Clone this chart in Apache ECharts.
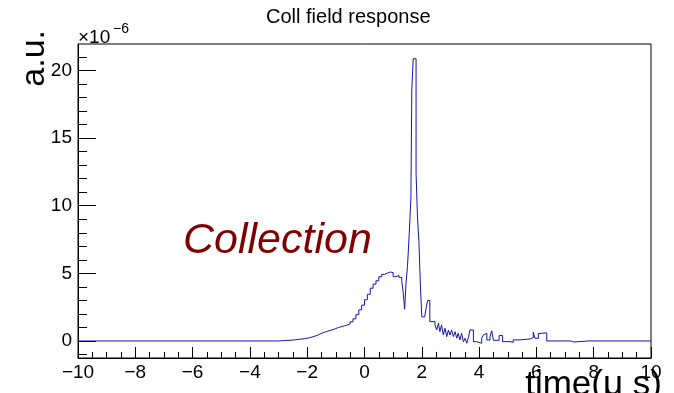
<!DOCTYPE html>
<html>
<head>
<meta charset="utf-8">
<script src="https://cdn.jsdelivr.net/npm/echarts@6/dist/echarts.min.js"></script>
<style>
  html, body { margin: 0; padding: 0; background: #fff; }
  #chart { width: 674px; height: 393px; }
</style>
</head>
<body>
<div id="chart"></div>
<script>
// bin start times (us) and bin contents (x 1e-6), each value holds until the next time
var binStart = [-10, -3.0, -2.9, -2.8, -2.7, -2.6, -2.5, -2.4, -2.3, -2.2, -2.1, -2.0, -1.9, -1.8, -1.7, -1.6,
  -1.5, -1.4, -1.3, -1.2, -1.1, -1.0, -0.9, -0.8, -0.7, -0.6, -0.5, -0.4, -0.3, -0.2, -0.1,
  0.0, 0.1, 0.2, 0.3, 0.4, 0.5, 0.6, 0.7, 0.8, 0.9, 1.0, 1.1, 1.2, 1.3, 1.35, 1.4, 1.45, 1.5,
  1.56, 1.62, 1.65, 1.7, 1.8, 1.85, 1.9, 1.95, 2.0, 2.1, 2.15, 2.2, 2.28, 2.46, 2.52, 2.58,
  2.63, 2.69, 2.75, 2.81, 2.87, 2.93, 2.98, 3.04, 3.10, 3.16, 3.22, 3.27, 3.33, 3.39, 3.45,
  3.51, 3.57, 3.62, 3.68, 3.80, 3.91, 4.09, 4.15, 4.21, 4.27, 4.38, 4.44, 4.5, 4.7, 4.82,
  5.08, 5.19, 5.43, 5.78, 5.89, 5.95, 6.07, 6.13, 6.36, 7.2, 7.3, 7.8, 7.85, 10];
var binValue = [0, 0.02, 0.03, 0.04, 0.05, 0.07, 0.09, 0.12, 0.14, 0.17, 0.2, 0.25, 0.31, 0.38, 0.46, 0.56,
  0.64, 0.71, 0.78, 0.84, 0.92, 1.0, 1.06, 1.12, 1.18, 1.26, 1.42, 1.64, 1.95, 2.3, 2.65,
  3.05, 3.45, 3.9, 4.2, 4.45, 4.75, 4.92, 5.02, 5.1, 5.05, 4.75, 4.85, 4.7, 4.45, 3.6, 2.35, 4.3, 5.5,
  7.85, 10.6, 18.5, 20.87, 12.4, 9.1, 7.36, 4.15, 1.78, 1.8, 2.42, 2.99, 1.43, 1.19, 0.81, 1.31,
  0.69, 1.19, 0.44, 0.94, 0.32, 0.81, 0.44, 0.81, 0.32, 0.69, 0.2, 0.57, 0.07, 0.57, -0.05,
  0.2, -0.17, 0.2, 0.81, -0.05, -0.17, 0.2, 0.44, 0.57, 0.07, 0.32, 0.76, 0.05, 0.4, -0.05,
  -0.1, 0.08, 0.15, 0.25, 0.65, 0.2, 0.55, 0.6, 0.0, -0.08, 0.0, -0.05, 0.0, 0.0];

var xTicks = [-10, 10, 2];
var yMajor = [0, 5, 10, 15, 20];
var yMinor = [-1, 1, 2, 3, 4, 6, 7, 8, 9, 11, 12, 13, 14, 16, 17, 18, 19, 21];

var font = 'Liberation Sans, Arial, sans-serif';
var chart = echarts.init(document.getElementById('chart'));

var minus = function (v) { return String(v).replace('-', '\u2212'); };

var option = {
  animation: false,
  backgroundColor: '#fff',
  grid: {
    left: 78, right: 23, top: 44, bottom: 35,
    show: true, borderColor: '#000', borderWidth: 1
  },
  xAxis: {
    type: 'value',
    min: xTicks[0], max: xTicks[1], interval: xTicks[2],
    axisLine: { onZero: false, lineStyle: { color: '#000', width: 1 } },
    axisTick: { inside: true, length: 11, lineStyle: { color: '#000' } },
    minorTick: { show: true, splitNumber: 4, length: 6, lineStyle: { color: '#000' } },
    splitLine: { show: false },
    axisLabel: { color: '#000', fontSize: 19, fontFamily: font, margin: 5, formatter: minus }
  },
  yAxis: [{
    type: 'value',
    min: -1.26, max: 21.96,
    axisLine: { show: true, onZero: false, lineStyle: { color: '#000', width: 1 } },
    axisTick: { inside: true, length: 18, customValues: yMajor, lineStyle: { color: '#000' } },
    splitLine: { show: false },
    axisLabel: { color: '#000', fontSize: 19, fontFamily: font, margin: 6, customValues: yMajor }
  }, {
    type: 'value',
    position: 'left',
    min: -1.26, max: 21.96,
    axisLine: { show: false, onZero: false },
    axisTick: { show: true, inside: true, length: 9, customValues: yMinor, lineStyle: { color: '#000' } },
    splitLine: { show: false },
    axisLabel: { show: false }
  }],
  series: [{
    type: 'line',
    step: 'end',
    symbol: 'none',
    data: binStart.map(function (t, i) { return [t, binValue[i]]; }),
    lineStyle: { color: '#1414b4', width: 1 }
  }],
  graphic: [
    { type: 'text', left: 266, top: 7,
      style: { text: 'Coll field response', fontSize: 20, fontFamily: font, fill: '#000' } },
    { type: 'text', left: 78, top: 28,
      style: { text: '\u00d710', fontSize: 19, fontFamily: font, fill: '#000' } },
    { type: 'text', left: 113, top: 22,
      style: { text: '\u22126', fontSize: 14, fontFamily: font, fill: '#000' } },
    { type: 'text', x: 18, y: 30, rotation: Math.PI / 2,
      style: { text: 'a.u.', fontSize: 34, fontFamily: font, fill: '#000', align: 'right', verticalAlign: 'top' } },
    { type: 'text', x: 662, y: 368,
      style: { text: 'time(\u03bc s)', fontSize: 35, fontFamily: font, fill: '#000', align: 'right', verticalAlign: 'top' } },
    { type: 'text', x: 183, y: 220,
      style: { text: 'Collection', fontSize: 43, fontStyle: 'italic', fontFamily: font, fill: '#800000' } }
  ]
};

chart.setOption(option);
</script>
</body>
</html>
